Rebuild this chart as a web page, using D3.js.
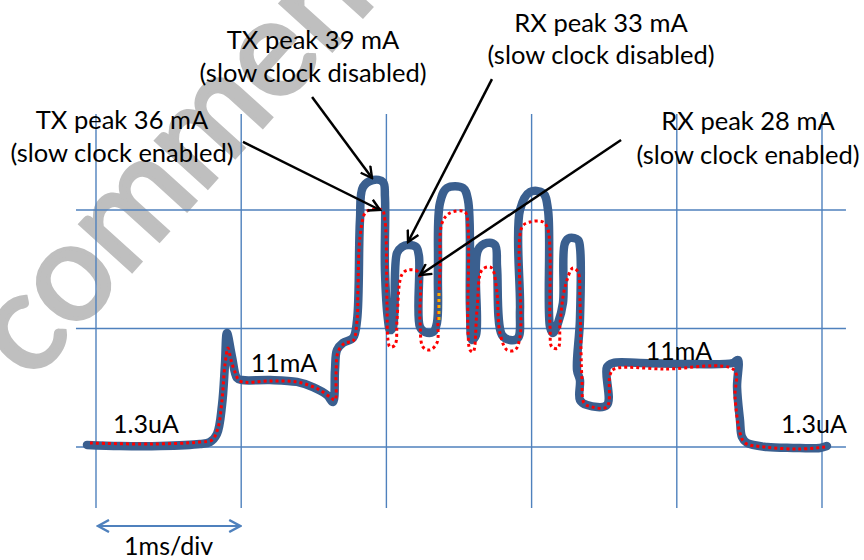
<!DOCTYPE html>
<html>
<head>
  <script src="https://d3js.org/d3.v7.min.js"></script>
  <style>
    body { margin: 0; background: #fff; overflow: hidden; }
    text { font-family: Lato, "Open Sans", sans-serif; fill: #000; }
  </style>
  <title>Current profile</title>
</head>
<body>
  <script>
    // time in ms (1 ms per division), level in grid divisions
    const blueT = [-0.062, 0.165, 0.441, 0.716, 0.785, 0.833, 0.868, 0.888, 0.902, 0.937, 0.971, 1.006, 1.198, 1.384, 1.494, 1.591, 1.632, 1.646, 1.660, 1.701, 1.770, 1.798, 1.818, 1.839, 1.908, 1.977, 1.990, 1.990, 2.011, 2.025, 2.045, 2.073, 2.107, 2.149, 2.204, 2.224, 2.231, 2.266, 2.321, 2.348, 2.355, 2.369, 2.417, 2.528, 2.562, 2.576, 2.590, 2.617, 2.631, 2.693, 2.748, 2.762, 2.796, 2.851, 2.906, 2.920, 2.920, 2.989, 3.079, 3.113, 3.127, 3.147, 3.182, 3.216, 3.230, 3.264, 3.320, 3.333, 3.333, 3.313, 3.333, 3.333, 3.382, 3.519, 3.519, 3.561, 3.747, 4.112, 4.387, 4.421, 4.415, 4.435, 4.449, 4.483, 4.621, 4.800, 4.986, 5.034];
    const blueV = [0.017, 0.008, 0.008, 0.025, 0.042, 0.110, 0.354, 0.692, 0.962, 0.759, 0.582, 0.565, 0.565, 0.549, 0.506, 0.439, 0.380, 0.650, 0.819, 0.878, 0.920, 1.072, 1.916, 2.194, 2.253, 2.236, 2.110, 1.494, 1.072, 0.987, 1.013, 1.637, 1.688, 1.705, 1.688, 1.612, 1.013, 0.970, 0.970, 1.046, 1.494, 2.059, 2.186, 2.186, 2.084, 1.156, 0.903, 0.945, 1.662, 1.722, 1.705, 1.519, 0.945, 0.903, 0.920, 1.156, 2.000, 2.152, 2.143, 2.000, 1.013, 0.962, 1.046, 1.215, 1.722, 1.764, 1.747, 1.688, 1.072, 0.650, 0.565, 0.397, 0.354, 0.354, 0.675, 0.709, 0.709, 0.700, 0.709, 0.734, 0.506, 0.228, 0.084, 0.034, 0.000, -0.008, -0.008, 0.008];

    const redT = [-0.041, 0.372, 0.716, 0.799, 0.840, 0.868, 0.888, 0.909, 0.930, 0.957, 0.992, 1.198, 1.384, 1.529, 1.612, 1.646, 1.653, 1.667, 1.715, 1.770, 1.798, 1.804, 1.818, 1.853, 1.887, 1.970, 1.990, 2.004, 2.011, 2.025, 2.059, 2.073, 2.094, 2.114, 2.149, 2.218, 2.231, 2.252, 2.300, 2.348, 2.355, 2.369, 2.383, 2.438, 2.541, 2.562, 2.562, 2.576, 2.597, 2.624, 2.658, 2.713, 2.734, 2.762, 2.782, 2.831, 2.886, 2.920, 2.934, 2.989, 3.079, 3.113, 3.127, 3.140, 3.182, 3.196, 3.230, 3.285, 3.320, 3.333, 3.340, 3.347, 3.361, 3.416, 3.519, 3.540, 3.568, 3.919, 4.394, 4.401, 4.435, 4.470, 4.608, 4.842, 5.021];
    const redV = [0.034, 0.025, 0.042, 0.059, 0.160, 0.397, 0.692, 0.835, 0.734, 0.633, 0.557, 0.557, 0.549, 0.489, 0.422, 0.397, 0.608, 0.802, 0.878, 0.895, 1.072, 1.325, 1.772, 1.975, 2.000, 2.000, 1.916, 1.215, 0.903, 0.844, 0.861, 1.072, 1.409, 1.468, 1.494, 1.477, 1.072, 0.844, 0.819, 0.878, 1.072, 1.494, 1.890, 1.975, 1.983, 1.857, 0.987, 0.819, 0.802, 1.156, 1.494, 1.519, 1.494, 1.300, 0.962, 0.819, 0.819, 0.928, 1.857, 1.899, 1.899, 1.831, 1.013, 0.844, 0.835, 1.046, 1.350, 1.511, 1.477, 1.241, 0.819, 0.565, 0.371, 0.338, 0.338, 0.608, 0.658, 0.658, 0.650, 0.422, 0.118, 0.034, 0.000, -0.017, 0.000];

    const orangeT = [2.362, 2.362];
    const orangeV = [1.300, 1.055];

    const gridX = [0, 1, 2, 3, 4, 5];
    const gridY = [0, 1, 2];

    const calloutText = [
      ["TX peak 39 mA", "(slow clock disabled)"],
      ["TX peak 36 mA", "(slow clock enabled)"],
      ["RX peak 33 mA", "(slow clock disabled)"],
      ["RX peak 28 mA", "(slow clock enabled)"]
    ];
    // arrow start / tip in [ms, div]
    const calloutFrom = [[1.488, 2.954], [1.012, 2.574], [2.727, 3.105], [3.616, 2.591]];
    const calloutTo = [[1.901, 2.270], [1.956, 2.000], [2.149, 1.730], [2.231, 1.451]];

    const levelText = ["1.3uA", "11mA", "11mA", "1.3uA"];
    const scaleText = "1ms/div";
    const watermarkText = "comment";

    const width = 864, height = 560;

    const x = d3.scaleLinear().domain([0, 5]).range([96, 822]);
    const y = d3.scaleLinear().domain([0, 2]).range([447, 210]);

    const svg = d3.select("body").append("svg")
      .attr("width", width)
      .attr("height", height);

    svg.append("rect").attr("width", width).attr("height", height).attr("fill", "#fff");

    // watermark behind everything: fit so the "o" and "e" land where they are in the picture
    const wm = svg.append("text")
      .style("font-size", "100px")
      .style("fill", "#bfbfbf")
      .style("stroke", "#bfbfbf")
      .style("stroke-width", 4)
      .text(watermarkText);
    const oPos = [73, 283], ePos = [275, 60];
    let oBox = wm.node().getExtentOfChar(1), eBox = wm.node().getExtentOfChar(4);
    const d0 = (eBox.x + eBox.width / 2) - (oBox.x + oBox.width / 2);
    const target = Math.hypot(ePos[0] - oPos[0], ePos[1] - oPos[1]);
    const fs = 100 * target / d0;
    wm.style("font-size", fs + "px");
    oBox = wm.node().getExtentOfChar(1);
    const oc = oBox.x + oBox.width / 2;
    const ang = Math.atan2(ePos[1] - oPos[1], ePos[0] - oPos[0]) * 180 / Math.PI;
    wm.attr("transform", `translate(${oPos[0]},${oPos[1]}) rotate(${ang}) translate(${-oc},${0.26 * fs})`);

    // grid
    svg.append("g").selectAll("line")
      .data(gridX).enter().append("line")
      .attr("x1", d => x(d)).attr("x2", d => x(d))
      .attr("y1", y(2.81)).attr("y2", y(-0.515))
      .attr("stroke", "#4F81BD").attr("stroke-width", 1.4);

    svg.append("g").selectAll("line")
      .data(gridY).enter().append("line")
      .attr("x1", x(-0.138)).attr("x2", x(5.165))
      .attr("y1", d => y(d)).attr("y2", d => y(d))
      .attr("stroke", "#4F81BD").attr("stroke-width", 1.4);

    const line = d3.line()
      .x(d => x(d[0]))
      .y(d => y(d[1]))
      .curve(d3.curveCatmullRom.alpha(0.5));

    svg.append("path")
      .datum(d3.zip(blueT, blueV))
      .attr("d", line)
      .attr("fill", "none")
      .attr("stroke", "#3A5F8F")
      .attr("stroke-width", 8.5)
      .attr("stroke-linejoin", "round")
      .attr("stroke-linecap", "round");

    svg.append("path")
      .datum(d3.zip(redT, redV))
      .attr("d", line)
      .attr("fill", "none")
      .attr("stroke", "#ff0000")
      .attr("stroke-width", 3)
      .attr("stroke-dasharray", "3,3");

    svg.append("path")
      .datum(d3.zip(orangeT, orangeV))
      .attr("d", d3.line().x(d => x(d[0])).y(d => y(d[1])))
      .attr("fill", "none")
      .attr("stroke", "#F5B400")
      .attr("stroke-width", 3)
      .attr("stroke-dasharray", "3,3");

    // arrow heads
    const defs = svg.append("defs");
    function head(id, color) {
      defs.append("marker")
        .attr("id", id)
        .attr("viewBox", "0 0 14 14")
        .attr("refX", 12).attr("refY", 7)
        .attr("markerWidth", 14).attr("markerHeight", 14)
        .attr("markerUnits", "userSpaceOnUse")
        .attr("orient", "auto-start-reverse")
        .append("path")
        .attr("d", "M1,1 L12,7 L1,13")
        .attr("fill", "none")
        .attr("stroke", color)
        .attr("stroke-width", 2.4);
    }
    head("blackHead", "#000");
    head("blueHead", "#4F81BD");

    svg.append("g").selectAll("line")
      .data(calloutFrom).enter().append("line")
      .attr("x1", d => x(d[0])).attr("y1", d => y(d[1]))
      .attr("x2", (d, i) => x(calloutTo[i][0])).attr("y2", (d, i) => y(calloutTo[i][1]))
      .attr("stroke", "#000").attr("stroke-width", 2.5)
      .attr("marker-end", "url(#blackHead)");

    // callout text
    const calloutPos = [[313, 49], [122, 129], [601, 32], [748, 130]];
    const calloutGap = [33, 33, 32, 34];
    calloutText.forEach((lines, i) => {
      const t = svg.append("text")
        .attr("text-anchor", "middle")
        .style("font-size", "25.5px");
      lines.forEach((s, j) => {
        t.append("tspan")
          .attr("x", calloutPos[i][0])
          .attr("y", calloutPos[i][1] + j * calloutGap[i])
          .text(s);
      });
    });

    // level labels
    const levelPos = [[146, 433], [284, 372], [679, 360], [814, 433]];
    svg.append("g").selectAll("text")
      .data(levelText).enter().append("text")
      .attr("x", (d, i) => levelPos[i][0])
      .attr("y", (d, i) => levelPos[i][1])
      .attr("text-anchor", "middle")
      .style("font-size", "25px")
      .text(d => d);

    // 1ms/div scale
    svg.append("line")
      .attr("x1", x(0) + 2).attr("x2", x(1) - 1)
      .attr("y1", 526).attr("y2", 526)
      .attr("stroke", "#4F81BD").attr("stroke-width", 2)
      .attr("marker-start", "url(#blueHead)")
      .attr("marker-end", "url(#blueHead)");

    svg.append("text")
      .attr("x", (x(0) + x(1)) / 2)
      .attr("y", 555)
      .attr("text-anchor", "middle")
      .style("font-size", "25px")
      .text(scaleText);
  </script>
</body>
</html>
